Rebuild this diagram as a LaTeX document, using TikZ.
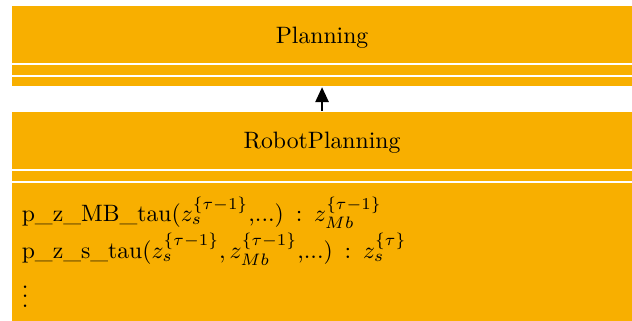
\documentclass[tikz,border=0pt]{standalone}
\usepackage{amsmath,amssymb}
\usepackage{xcolor}
\usetikzlibrary{positioning,arrows.meta}
\definecolor{umlfill}{HTML}{F8AF00}

\begin{document}
\begin{tikzpicture}[
  classpart/.style={rectangle, fill=umlfill, draw=white, line width=0.8pt, outer sep=0pt, inner sep=0pt, minimum width=262.4pt},
  namepart/.style={classpart, minimum height=24.9pt, text height=9.4pt, text depth=2pt},
  emptypart/.style={classpart, minimum height=5.1pt},
  inherit/.style={-{Triangle[length=6.3pt, width=5.6pt]}, line width=0.8pt}]
\clip (0,0) rectangle (266.7pt,-135.4pt);
% base class
\node[namepart, anchor=north] (plan) at (135.9pt,-2pt) {Planning};
\node[emptypart, below=0pt of plan] (planattr) {};
\node[emptypart, minimum height=4.8pt, below=0pt of planattr] (planmeth) {};
% derived class
\node[namepart, below=9.9pt of planmeth] (robot) {RobotPlanning};
\node[emptypart, below=0pt of robot] (robotattr) {};
\node[classpart, below=0pt of robotattr, align=left, text width=253.4pt, inner xsep=4.5pt, inner ysep=6.4pt] (robotmeth) {%
  p\_z\_MB\_tau($z_s^{\{\tau-1\}}$,...) : $z_{Mb}^{\{\tau-1\}}$\\[1pt]
  p\_z\_s\_tau($z_s^{\{\tau-1\}}, z_{Mb}^{\{\tau-1\}}$,...) : $z_s^{\{\tau\}}$\\[1.5pt]
  $\vdots$\rule[-14pt]{0pt}{14pt}};
% generalisation
\draw[inherit] (robot) -- (planmeth);
\end{tikzpicture}
\end{document}
